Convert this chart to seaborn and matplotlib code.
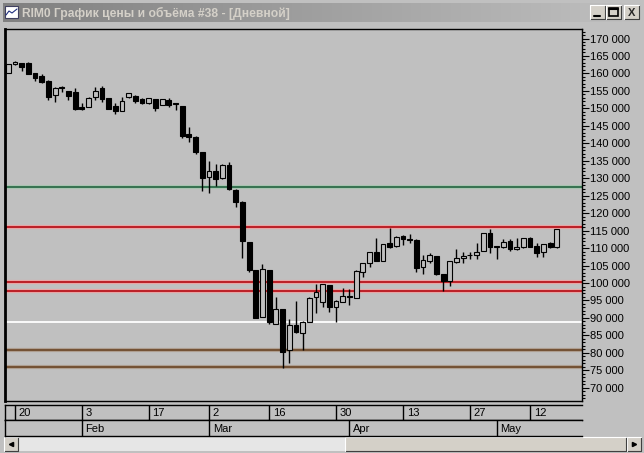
import numpy as np
import matplotlib
matplotlib.use("Agg")
import matplotlib.pyplot as plt
from matplotlib.patches import Rectangle
from matplotlib.colors import LinearSegmentedColormap
from matplotlib.ticker import MultipleLocator, FuncFormatter
import seaborn as sns

# daily candles of RIM0
opens = [160200, 162600, 162900, 163100, 160100, 159300, 157800, 153900, 155900, 155000,
         154600, 150500, 150500, 153300, 155900, 153000, 150700, 149300, 153300, 153500,
         152600, 151400, 152600, 151000, 152400, 151300, 150700, 142600, 141900, 137400,
         130400, 132100, 130000, 133800, 126600, 123300, 111700, 103700, 90400, 103700,
         88300, 92600, 80800, 88000, 85800, 88900, 95900, 94600, 99400, 93200,
         94600, 96300, 95800, 103200, 105600, 108800, 106400, 111400, 110700, 113500,
         112500, 112300, 104500, 106400, 107700, 102500, 100700, 106100, 107100, 107900,
         108000, 109200, 114200, 110400, 110400, 112100, 109600, 110200, 112800, 110600,
         109000, 111500, 110200]
highs = [162700, 163500, 163100, 163200, 160200, 159800, 158000, 156000, 156500, 155100,
         155700, 151400, 153300, 156200, 156400, 153100, 151400, 153300, 154400, 153700,
         152900, 153000, 152800, 152700, 152900, 151400, 150800, 144600, 142000, 137500,
         135000, 134100, 134000, 134700, 126900, 123400, 111800, 103800, 105400, 103800,
         95900, 92700, 89700, 94800, 89000, 96100, 99700, 99800, 99500, 95000,
         98700, 98200, 103700, 105700, 108900, 113000, 111300, 115700, 113400, 113700,
         113900, 112500, 108000, 108500, 107800, 102600, 106400, 109600, 108800, 108800,
         111400, 114300, 115400, 110500, 112500, 112600, 112800, 112900, 113100, 111400,
         111300, 111800, 115500]
lows = [160100, 162500, 160800, 159800, 157900, 157400, 152400, 151900, 154800, 152400,
        149600, 149500, 150400, 152400, 151900, 149700, 148300, 149200, 152900, 151400,
        151200, 151300, 149300, 150900, 150500, 149500, 141600, 140500, 136800, 126400,
        125900, 127900, 129800, 126500, 121800, 107100, 103200, 90000, 90300, 88200,
        88200, 75800, 77000, 85800, 80800, 88800, 91300, 93200, 91800, 88900,
        94500, 93700, 95700, 101800, 104700, 106200, 106300, 110100, 110300, 110800,
        111400, 103200, 102500, 105800, 102400, 97800, 99200, 105800, 105600, 106800,
        106800, 109100, 108500, 106800, 109900, 109100, 109500, 110100, 110300, 107500,
        107500, 109900, 110100]
closes = [162600, 163400, 161900, 159900, 158800, 157500, 153300, 155800, 155800, 153600,
          149800, 149700, 152900, 154900, 152600, 149800, 149200, 152100, 154300, 152100,
          151400, 152900, 150200, 152600, 151000, 151200, 142100, 141700, 137600, 130000,
          132100, 129700, 133800, 126800, 123300, 112100, 103700, 90100, 103900, 88800,
          92600, 80200, 88000, 86100, 88900, 95600, 97500, 99700, 93200, 94800,
          96400, 96000, 103400, 105600, 108800, 106400, 111200, 110400, 113300, 112600,
          112300, 104400, 106600, 108000, 102500, 100600, 106300, 107100, 107700, 108000,
          109000, 114200, 110200, 110300, 111700, 109600, 110200, 112800, 110400, 108700,
          111200, 110200, 115400]

# date scale (candle number where each label starts)
day_labels = ["20", "3", "17", "2", "16", "30", "13", "27", "12"]
day_pos = [1, 11, 21, 30, 39, 49, 59, 69, 78]
month_labels = ["Feb", "Mar", "Apr", "May"]
month_pos = [11, 30, 51, 73]

# horizontal levels drawn on the chart
level_prices = [127600, 116000, 100300, 97700, 88800, 80700, 76000]
level_colors = ["#2d6b48", "#b8141c", "#b8141c", "#b8141c", "#ffffff", "#6e4a2c", "#6e4a2c"]
level_glow = ["#a8c4b0", "#e8a4a4", "#e8a4a4", "#e8a4a4", None, "#ae9e90", "#ae9e90"]

W, H = 644, 453
bg = "#c0c0c0"
face = "#d4d0c8"

sns.set_theme(style="white", rc={"axes.facecolor": bg, "figure.facecolor": bg})
plt.rcParams["font.family"] = ["Liberation Sans", "DejaVu Sans"]

fig = plt.figure(figsize=(W / 100, H / 100), dpi=100)


def px_axes(x0, y0, x1, y1):
    return fig.add_axes([x0 / W, 1 - y1 / H, (x1 - x0) / W, (y1 - y0) / H])


def bevel(ax, x0, y0, x1, y1, fc=face):
    ax.add_patch(Rectangle((x0, y0), x1 - x0, y1 - y0, facecolor=fc, edgecolor="none"))
    ax.plot([x0, x1, x1], [y1, y1, y0], color="#404040", lw=0.8)
    ax.plot([x0, x0, x1], [y1, y0, y0], color="white", lw=0.8)


# window chrome on a pixel grid
chrome = fig.add_axes([0, 0, 1, 1])
chrome.set_xlim(0, W)
chrome.set_ylim(H, 0)
chrome.axis("off")

grad = LinearSegmentedColormap.from_list("title", ["#808080", "#c0c0c0"])
chrome.imshow(np.linspace(0, 1, 256)[None, :], cmap=grad, aspect="auto",
              extent=[3, 641, 22, 3], zorder=1)
chrome.add_patch(Rectangle((5, 6), 13, 12, facecolor="white", edgecolor="#404060", lw=0.8, zorder=2))
chrome.plot([6, 9, 12, 17], [15, 11, 13, 9], color="#203080", lw=0.8, zorder=3)
chrome.text(22, 13, "RIM0 График цены и объёма #38 - [Дневной]", color=face,
            fontsize=8.7, fontweight="bold", va="center", zorder=3)
for bx in (590, 606, 624):
    bevel(chrome, bx, 5, bx + 15, 19)
chrome.plot([594, 600], [16, 16], color="black", lw=1.5)
chrome.add_patch(Rectangle((609.5, 8), 9, 8, facecolor="none", edgecolor="black", lw=1.2))
chrome.plot([609.5, 618.5], [8.5, 8.5], color="black", lw=1.5)
chrome.text(631.5, 12.5, "X", fontsize=8, fontweight="bold", ha="center", va="center")

# scrollbar
chrome.add_patch(Rectangle((18, 437), 609, 14, facecolor="#e6e6e6", edgecolor="none"))
bevel(chrome, 4, 437, 18, 451)
bevel(chrome, 627, 437, 641, 451)
bevel(chrome, 345, 437, 626, 451)
chrome.plot([11], [444], marker="<", color="black", ms=3)
chrome.plot([634], [444], marker=">", color="black", ms=3)

# price chart
ax = px_axes(5, 29, 582, 401)
x = np.arange(len(opens))
o = np.array(opens)
c = np.array(closes)
lo = np.minimum(o, c)
hi = np.maximum(o, c)
up = c >= o
ax.vlines(x, lows, highs, color="black", lw=1, zorder=3)
ax.bar(x, np.maximum(hi - lo, 200), bottom=lo, width=0.72,
       color=np.where(up, bg, "black"), edgecolor="black", lw=0.8, zorder=4)

for p, col, glow in zip(level_prices, level_colors, level_glow):
    if glow:
        ax.axhline(p, color=glow, lw=3.0, zorder=1)
    ax.axhline(p, color=col, lw=1.3, zorder=2)

ax.set_xlim(-0.49, 85.76)
ax.set_ylim(66220, 172720)
ax.set_xticks([])
ax.yaxis.tick_right()
ax.yaxis.set_major_locator(MultipleLocator(5000))
ax.yaxis.set_minor_locator(MultipleLocator(1000))
ax.yaxis.set_major_formatter(FuncFormatter(lambda v, pos: f"{v:,.0f}".replace(",", " ")))
ax.tick_params(axis="y", which="major", direction="out", length=5, width=0.8,
               color="black", labelsize=8, pad=1, labelcolor="black")
ax.tick_params(axis="y", which="minor", direction="out", length=2.5, width=0.8, color="black")
for side in ax.spines:
    ax.spines[side].set_color("black")
    ax.spines[side].set_linewidth(1)
ax.spines["left"].set_linewidth(2)

# date rows under the chart
for (y0, y1), labels, pos in (((405, 420), day_labels, day_pos),
                              ((420, 436), month_labels, month_pos)):
    axd = px_axes(5, y0, 582, y1)
    axd.set_xlim(-0.49, 85.76)
    axd.set_ylim(0, 1)
    axd.vlines(pos, 0, 1, color="black", lw=1)
    for lab, p in zip(labels, pos):
        axd.text(p + 0.55, 0.45, lab, fontsize=8, va="center", ha="left", color="black")
    axd.set_xticks([])
    axd.set_yticks([])
    axd.set_facecolor(bg)
    for side in axd.spines:
        axd.spines[side].set_color("black")
        axd.spines[side].set_linewidth(1)
    axd.spines["right"].set_visible(False)

fig.savefig("out.png", dpi=100, facecolor=bg)
